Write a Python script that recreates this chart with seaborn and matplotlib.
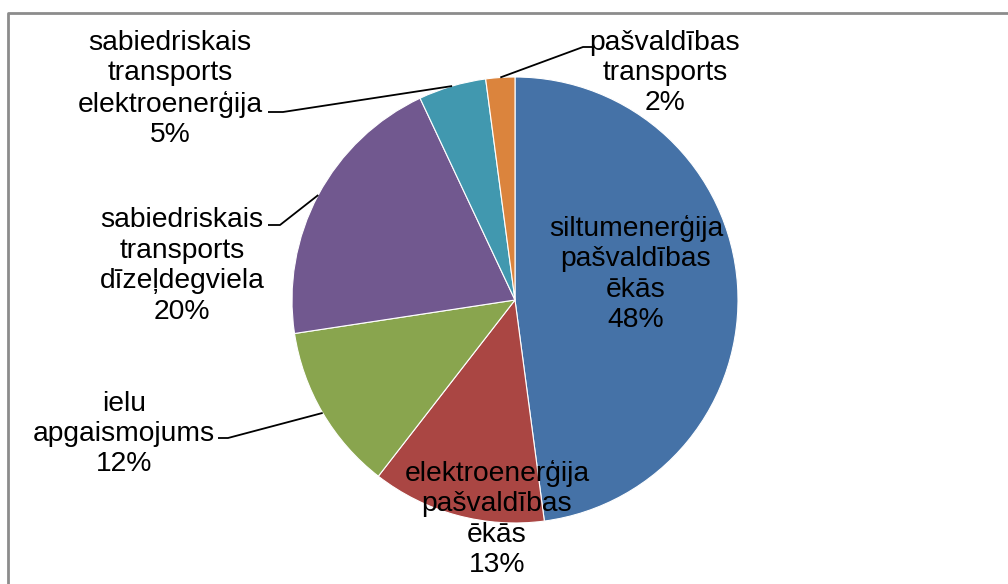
import numpy as np
import matplotlib
matplotlib.use("Agg")
import matplotlib.pyplot as plt
import seaborn as sns

# shares of energy consumption
categories = [
    "siltumenerģija\npašvaldības\nēkās",
    "elektroenerģija\npašvaldības\nēkās",
    "ielu\napgaismojums",
    "sabiedriskais\ntransports\ndīzeļdegviela",
    "sabiedriskais\ntransports\nelektroenerģija",
    "pašvaldības\ntransports",
]
values = [47.9, 12.6, 12.1, 20.4, 4.9, 2.1]
pct_labels = ["48%", "13%", "12%", "20%", "5%", "2%"]
colors = ["#4572A7", "#AA4643", "#89A54E", "#71588F", "#4198AF", "#DB843D"]

W, H = 1008, 584
sns.set_theme(style="white")
plt.rcParams['font.family'] = ['Liberation Sans', 'DejaVu Sans']

fig = plt.figure(figsize=(W / 100, H / 100), dpi=100)
ax = fig.add_axes([0, 0, 1, 1])

def py(y):
    # pixel row -> data y
    return H - y

cx, cy, r = 515, 300, 223
wedges, _ = ax.pie(values, colors=colors, startangle=90, counterclock=False,
                   center=(cx, py(cy)), radius=r,
                   wedgeprops=dict(linewidth=0.8, edgecolor="white"))
ax.set_xlim(0, W)
ax.set_ylim(0, H)
ax.set_aspect("equal")
ax.axis("off")

# label placement: (text centre x, text centre y, elbow point, line end) in pixels
layout = [
    (636, 274, None, None),
    (497, 519, None, None),
    (124, 434, (228, 438), (218, 438)),
    (182, 266, (280, 225), (268, 225)),
    (170, 89, (283, 112), (268, 112)),
    (665, 73, (583, 47), (595, 47)),
]

fs = 20.3
for w, cat, pct, (tx, ty, elbow, end) in zip(wedges, categories, pct_labels, layout):
    ax.text(tx, py(ty), f"{cat}\n{pct}", ha="center", va="center",
            fontsize=fs, color="black", linespacing=1.22)
    if elbow is not None:
        mid = np.deg2rad((w.theta1 + w.theta2) / 2)
        sx = cx + r * np.cos(mid)
        sy = py(cy) + r * np.sin(mid)
        ax.plot([sx, elbow[0], end[0]], [sy, py(elbow[1]), py(end[1])],
                color="black", lw=1.3, solid_capstyle="butt")

# chart area border (only top and left visible in the crop)
ax.plot([8, 8, W], [0, py(13), py(13)], color="#8c8c8c", lw=2, clip_on=False)

fig.savefig("out.png", dpi=100)
